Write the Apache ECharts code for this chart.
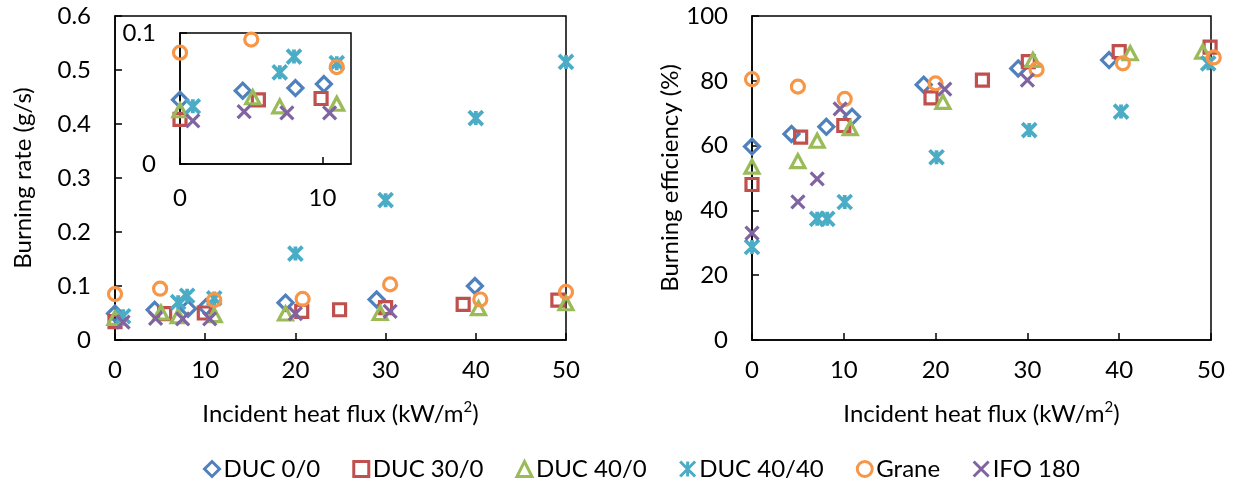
<!DOCTYPE html>
<html>
<head>
<meta charset="utf-8">
<script src="https://cdn.jsdelivr.net/npm/echarts@6/dist/echarts.min.js"></script>
<style>
  html, body { margin: 0; padding: 0; background: #fff; }
  #chart { width: 1236px; height: 483px; }
</style>
</head>
<body>
<div id="chart"></div>
<script>
// series names, in legend order
const seriesNames = ['DUC 0/0', 'DUC 30/0', 'DUC 40/0', 'DUC 40/40', 'Grane', 'IFO 180']

// burning rate (g/s) vs incident heat flux (kW/m2)
const rateDuc00 = [[0, 0.049], [4.4, 0.056], [8.1, 0.058], [10.1, 0.061], [18.9, 0.069], [29, 0.075], [39.9, 0.100]]
const rateDuc300 = [[0, 0.034], [5.5, 0.049], [9.9, 0.050], [20.7, 0.053], [24.9, 0.056], [30, 0.060], [38.6, 0.066], [49.1, 0.074]]
const rateDuc400 = [[0, 0.041], [5.1, 0.051], [7, 0.044], [11, 0.046], [18.9, 0.049], [29.4, 0.050], [40.3, 0.059], [50, 0.068]]
const rateDuc4040 = [[0.9, 0.044], [7, 0.070], [8, 0.082], [11, 0.077], [20, 0.160], [30, 0.259], [40, 0.411], [50, 0.515]]
const rateGrane = [[0, 0.085], [5, 0.095], [11, 0.074], [20.8, 0.076], [30.5, 0.103], [40.5, 0.075], [50, 0.089]]
const rateIfo = [[0.9, 0.033], [4.5, 0.040], [7.5, 0.039], [10.5, 0.039], [20, 0.049], [30.5, 0.053]]

// burning efficiency (%) vs incident heat flux (kW/m2)
const effDuc00 = [[0, 59.7], [4.3, 63.6], [8.1, 65.8], [10.9, 68.9], [18.7, 78.8], [29, 83.8], [38.9, 86.4]]
const effDuc300 = [[0, 48], [5.3, 62.6], [10, 66.2], [19.5, 74.7], [25.1, 80.2], [30.1, 85.9], [40, 89], [49.9, 90.4]]
const effDuc400 = [[0, 53.5], [5, 55.2], [7.1, 61.5], [10.7, 65.4], [20.8, 73.5], [30.6, 86.4], [41.2, 88.5], [49.1, 89]]
const effDuc4040 = [[0, 28.7], [7.1, 37.4], [8.2, 37.4], [10.1, 42.6], [20.1, 56.4], [30.2, 64.8], [40.2, 70.5], [49.7, 85.4]]
const effGrane = [[0, 80.5], [5, 78.2], [10.1, 74.4], [20, 79.2], [31, 83.5], [40.4, 85.4], [50.3, 87.2]]
const effIfo = [[0, 33], [5, 42.6], [7.1, 49.7], [9.6, 71.3], [21, 77.4], [30, 80.2]]

const rateData = [rateDuc00, rateDuc300, rateDuc400, rateDuc4040, rateGrane, rateIfo]
const effData = [effDuc00, effDuc300, effDuc400, effDuc4040, effGrane, effIfo]

// inset range
const insetXMax = 12
const insetYMax = 0.1

const colors = ['#4F81BD', '#C0504D', '#9BBB59', '#4BACC6', '#F79646', '#8064A2']
const symbols = [
  {symbol: 'diamond', size: 15, width: 3.2},
  {symbol: 'rect', size: 12, width: 3.2},
  {symbol: 'triangle', size: [14, 13], width: 3.2},
  {symbol: 'path://M0,0L10,10M10,0L0,10M5,0L5,10', size: 14, width: 3.8},
  {symbol: 'circle', size: 13, width: 3.2},
  {symbol: 'path://M0,0L10,10M10,0L0,10', size: 13, width: 3.2}
]

const font = 'Lato'
const fs = 24

function axisBase(extra) {
  return Object.assign({
    type: 'value',
    splitLine: {show: false},
    axisLine: {show: true, lineStyle: {color: '#000', width: 1.5}},
    axisTick: {show: true, inside: true, length: 7, lineStyle: {color: '#000', width: 1.5}},
    axisLabel: {color: '#000', fontFamily: font, fontSize: fs},
    nameTextStyle: {color: '#000', fontFamily: font, fontSize: fs}
  }, extra)
}

const xName = 'Incident heat flux (kW/m{sup|2})'
const xNameStyle = {
  color: '#000', fontFamily: font, fontSize: fs, lineHeight: 28,
  rich: {sup: {fontFamily: font, fontSize: 15, lineHeight: 15, verticalAlign: 'top', color: '#000'}}
}

const series = []
function addSeries(i, data, axisIdx) {
  const s = symbols[i]
  series.push({
    name: seriesNames[i],
    type: 'scatter',
    xAxisIndex: axisIdx,
    yAxisIndex: axisIdx,
    symbol: s.symbol,
    symbolSize: s.size,
    symbolKeepAspect: true,
    clip: false,
    z: axisIdx === 2 ? 5 : 2,
    itemStyle: {color: 'transparent', borderColor: colors[i], borderWidth: s.width, borderJoin: 'miter', opacity: 1},
    emphasis: {disabled: true},
    data: data
  })
}
for (let i = 0; i < seriesNames.length; i++) {
  addSeries(i, rateData[i], 0)
  addSeries(i, effData[i], 1)
  addSeries(i, rateData[i].filter(p => p[0] <= insetXMax && p[1] <= insetYMax), 2)
}

const chart = echarts.init(document.getElementById('chart'))
chart.setOption({
  animation: false,
  backgroundColor: '#fff',
  grid: [
    {left: 115, top: 16, width: 451, height: 324, show: true, borderColor: '#000', borderWidth: 1.5, backgroundColor: 'transparent'},
    {left: 752, top: 16, width: 459, height: 324, show: true, borderColor: '#000', borderWidth: 1.5, backgroundColor: 'transparent'},
    {left: 180, top: 33, width: 171, height: 131, show: true, borderColor: '#000', borderWidth: 1.5, backgroundColor: '#fff', z: 4}
  ],
  xAxis: [
    axisBase({gridIndex: 0, min: 0, max: 50, interval: 10, name: xName, nameLocation: 'middle', nameGap: 60,
      axisLabel: {color: '#000', fontFamily: font, fontSize: fs, margin: 18}, nameTextStyle: xNameStyle}),
    axisBase({gridIndex: 1, min: 0, max: 50, interval: 10, name: xName, nameLocation: 'middle', nameGap: 60,
      axisLabel: {color: '#000', fontFamily: font, fontSize: fs, margin: 18}, nameTextStyle: xNameStyle}),
    axisBase({gridIndex: 2, min: 0, max: insetXMax, interval: 10, z: 5,
      axisLabel: {color: '#000', fontFamily: font, fontSize: fs, margin: 22, showMaxLabel: false}})
  ],
  yAxis: [
    axisBase({gridIndex: 0, min: 0, max: 0.6, interval: 0.1, name: 'Burning rate (g/s)', nameLocation: 'middle', nameGap: 80,
      axisLabel: {color: '#000', fontFamily: font, fontSize: fs, margin: 24}}),
    axisBase({gridIndex: 1, min: 0, max: 100, interval: 20, name: 'Burning efficiency (%)', nameLocation: 'middle', nameGap: 70,
      axisLabel: {color: '#000', fontFamily: font, fontSize: fs, margin: 24}}),
    axisBase({gridIndex: 2, min: 0, max: insetYMax, interval: 0.1, z: 5,
      axisLabel: {color: '#000', fontFamily: font, fontSize: fs, margin: 24}})
  ],
  legend: {
    data: seriesNames,
    left: 198,
    top: 452,
    itemGap: 32,
    itemWidth: 15,
    itemHeight: 15,
    itemStyle: {borderWidth: 3},
    textStyle: {color: '#000', fontFamily: font, fontSize: fs, padding: [0, 0, 0, -1]}
  },
  series: series
})
</script>
</body>
</html>
